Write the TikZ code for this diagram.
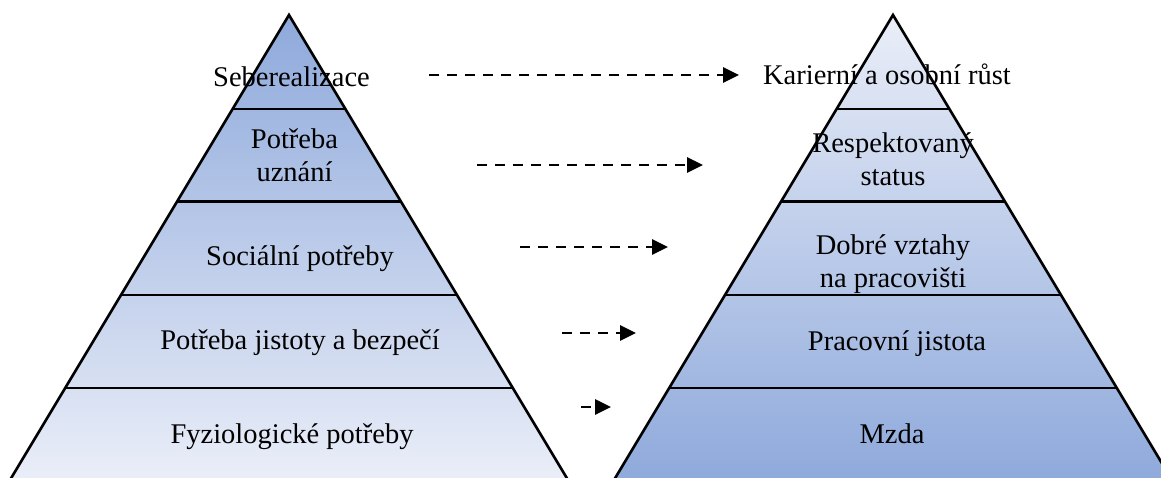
\documentclass[tikz,border=0pt]{standalone}
\usepackage{fontspec}
\setmainfont{Liberation Serif}
\usetikzlibrary{arrows.meta}
\definecolor{deepblue}{RGB}{142,169,219}
\definecolor{paleblue}{RGB}{234,238,248}
\begin{document}
\begin{tikzpicture}[x=1pt,y=-1pt,
  edge/.style={line width=2.6pt, line join=miter},
  txt/.style={font=\fontsize{28.5}{32.6}\selectfont, align=center, inner sep=0pt, anchor=base},
  link/.style={line width=2.8pt, dash pattern=on 10pt off 8pt,
               -{Triangle[length=16pt,width=15pt]}}
]
\useasboundingbox (0,0) rectangle (1161,477);
\clip (0,0) rectangle (1161,477);

% ---- left pyramid: needs (dark at the top) ----
\path[top color=deepblue, bottom color=paleblue]
  (289,15) -- (9.4,481) -- (568.6,481) -- cycle;
\begin{scope}
  \clip (289,15) -- (9.4,481) -- (568.6,481) -- cycle;
  \foreach \yy in {109,201.5,295,388} \draw[edge] (0,\yy) -- (1161,\yy);
\end{scope}
\draw[edge] (9.4,481) -- (289,15) -- (568.6,481);

% ---- right pyramid: work motivators (dark at the bottom) ----
\path[top color=paleblue, bottom color=deepblue]
  (893,15) -- (613.4,481) -- (1172.6,481) -- cycle;
\begin{scope}
  \clip (893,15) -- (613.4,481) -- (1172.6,481) -- cycle;
  \foreach \yy in {109,201.5,295,388} \draw[edge] (0,\yy) -- (1161,\yy);
\end{scope}
\draw[edge] (613.4,481) -- (893,15) -- (1172.6,481);

% ---- labels (anchored at the baseline of the last line) ----
\node[txt] (n1) at (291.5,86)  {Seberealizace};
\node[txt] (n2) at (294.5,181) {Potřeba\\uznání};
\node[txt] (n3) at (300,265)   {Sociální potřeby};
\node[txt] (n4) at (300,349)   {Potřeba jistoty a bezpečí};
\node[txt] (n5) at (292,443)   {Fyziologické potřeby};

\node[txt] (m1) at (887,84)    {Karierní a osobní růst};
\node[txt] (m2) at (893,185)   {Respektovaný\\status};
\node[txt] (m3) at (893,287)   {Dobré vztahy\\na pracovišti};
\node[txt] (m4) at (897,350)   {Pracovní jistota};
\node[txt] (m5) at (892,443)   {Mzda};

% ---- dashed links between the levels ----
\coordinate (a1) at (429,75);  \coordinate (b1) at (739,75);
\coordinate (a2) at (477,165); \coordinate (b2) at (703,165);
\coordinate (a3) at (520,247); \coordinate (b3) at (668,247);
\coordinate (a4) at (562,333); \coordinate (b4) at (636,333);
\coordinate (a5) at (581,407); \coordinate (b5) at (611,407);
\foreach \i in {1,...,5} \draw[link] (a\i) -- (b\i);
\end{tikzpicture}
\end{document}
